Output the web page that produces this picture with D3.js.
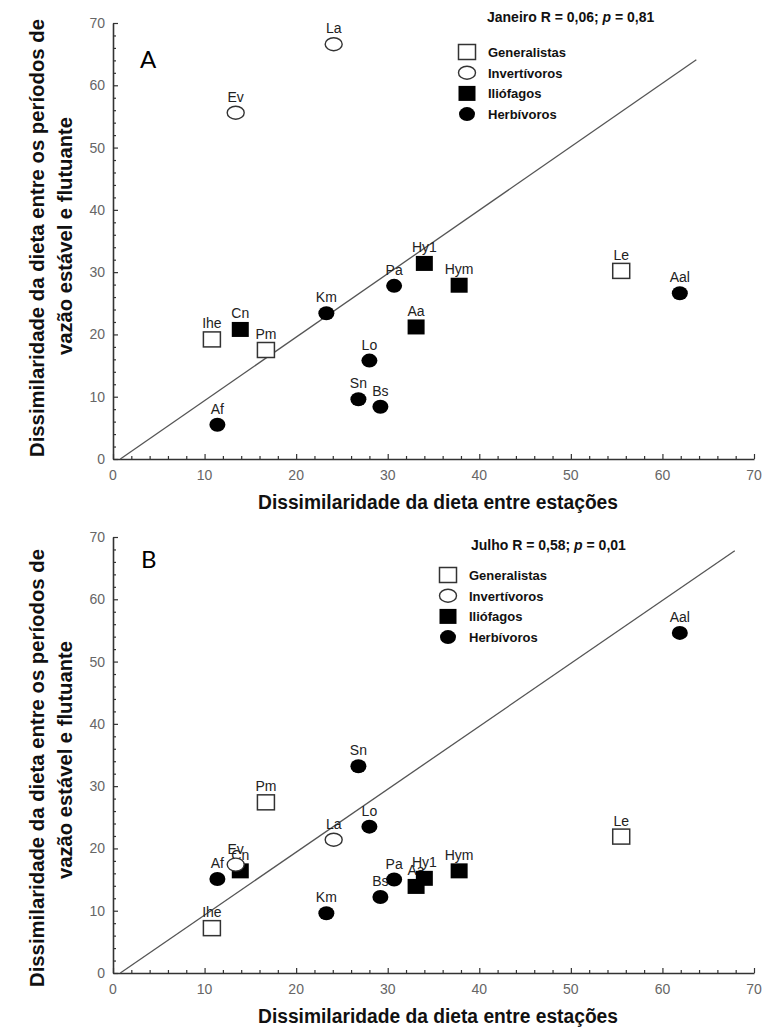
<!DOCTYPE html>
<html>
<head>
<meta charset="utf-8">
<script src="https://cdn.jsdelivr.net/npm/d3@7"></script>
<style>
  html, body { margin: 0; padding: 0; background: #fff; }
  svg { display: block; }
  .tick-num { font-family: "Liberation Sans", Arial, sans-serif; font-size: 14px; fill: #666; }
  .axis-title { font-family: "Liberation Sans Narrow", "Liberation Sans", Arial, sans-serif; font-weight: bold; font-size: 20px; fill: #111; }
  .pt-label { font-family: "Liberation Sans", Arial, sans-serif; font-size: 14px; fill: #222; }
  .leg-text { font-family: "Liberation Sans", Arial, sans-serif; font-weight: bold; font-size: 13px; fill: #111; }
  .panel-letter { font-family: Lato, "Open Sans", sans-serif; font-size: 24px; fill: #000; }
</style>
</head>
<body>
<svg id="chart" width="773" height="1029"></svg>
<script>
// Species codes and feeding guild of each
const species = ["Ihe", "Pm", "Le", "Km", "Pa", "Lo", "Sn", "Bs", "Af", "Aal", "Aa", "Cn", "Hy1", "Hym", "La", "Ev"];
const guild   = ["Generalistas", "Generalistas", "Generalistas",
                 "Herbívoros", "Herbívoros", "Herbívoros", "Herbívoros", "Herbívoros", "Herbívoros", "Herbívoros",
                 "Iliófagos", "Iliófagos", "Iliófagos", "Iliófagos",
                 "Invertívoros", "Invertívoros"];

// Diet dissimilarity between seasons (x, shared by both months)
const betweenSeasons = [10.8, 16.7, 55.5, 23.3, 30.7, 28.0, 26.8, 29.2, 11.4, 61.9, 33.1, 13.9, 34.0, 37.8, 24.1, 13.4];
// Diet dissimilarity between stable and fluctuating flow periods (y)
const janeiro = [19.2, 17.5, 30.2, 23.4, 27.8, 15.8, 9.6, 8.4, 5.5, 26.6, 21.2, 20.8, 31.4, 27.9, 66.6, 55.6];
const julho   = [7.2, 27.4, 21.9, 9.6, 15.0, 23.5, 33.2, 12.2, 15.1, 54.6, 13.9, 16.4, 15.2, 16.4, 21.4, 17.4];

// Reference lines (end points in data units)
const lineJaneiro = [[0.8, 0], [63.7, 64.1]];
const lineJulho   = [[0.8, 0], [67.9, 67.8]];

const guilds = ["Generalistas", "Invertívoros", "Iliófagos", "Herbívoros"];
const majorTicks = d3.range(0, 71, 10);
const minorTicks = d3.range(0, 71, 2).filter(v => v % 10 !== 0);

const xTitle = "Dissimilaridade da dieta entre estações";
const yTitle1 = "Dissimilaridade da dieta entre os períodos de";
const yTitle2 = "vazão estável e flutuante";

const svg = d3.select("#chart");

const x = d3.scaleLinear().domain([0, 70]).range([113, 754]);

function marker(sel, g) {
  if (g === "Generalistas") {
    sel.append("rect").attr("x", -8.5).attr("y", -7.5).attr("width", 17).attr("height", 15)
      .attr("fill", "#fff").attr("stroke", "#333").attr("stroke-width", 1.5);
  } else if (g === "Iliófagos") {
    sel.append("rect").attr("x", -8.5).attr("y", -7.5).attr("width", 17).attr("height", 15)
      .attr("fill", "#000");
  } else if (g === "Invertívoros") {
    sel.append("ellipse").attr("rx", 8.5).attr("ry", 6.5)
      .attr("fill", "#fff").attr("stroke", "#333").attr("stroke-width", 1.4);
  } else {
    sel.append("ellipse").attr("rx", 8).attr("ry", 7).attr("fill", "#000");
  }
}

function panel(opts) {
  const y = d3.scaleLinear().domain([0, 70]).range([opts.bottom, opts.top]);
  const g = svg.append("g");

  // axes: major ticks with labels, minor ticks without
  const xAxis = g.append("g").attr("transform", `translate(0,${opts.bottom})`)
    .call(d3.axisBottom(x).tickValues(majorTicks).tickSizeInner(-5).tickSizeOuter(0).tickFormat(() => ""));
  g.append("g").attr("transform", `translate(0,${opts.bottom})`)
    .call(d3.axisBottom(x).tickValues(minorTicks).tickSizeInner(-3).tickSizeOuter(0).tickFormat(() => ""))
    .select(".domain").remove();
  const yAxis = g.append("g").attr("transform", `translate(113,0)`)
    .call(d3.axisLeft(y).tickValues(majorTicks).tickSizeInner(-5).tickSizeOuter(0).tickFormat(() => ""));
  g.append("g").attr("transform", `translate(113,0)`)
    .call(d3.axisLeft(y).tickValues(minorTicks).tickSizeInner(-3).tickSizeOuter(0).tickFormat(() => ""))
    .select(".domain").remove();
  g.selectAll(".domain").attr("stroke", "#333").attr("stroke-width", 1.6);
  g.selectAll(".tick line").attr("stroke", "#333").attr("stroke-width", 1.2);

  // tick numbers
  g.selectAll(".xnum").data(majorTicks).enter().append("text")
    .attr("class", "tick-num").attr("x", d => x(d)).attr("y", opts.bottom + 21)
    .attr("text-anchor", "middle").text(d => d);
  g.selectAll(".ynum").data(majorTicks).enter().append("text")
    .attr("class", "tick-num").attr("x", 105).attr("y", d => y(d) + 5)
    .attr("text-anchor", "end").text(d => d);

  // axis titles
  g.append("text").attr("class", "axis-title")
    .attr("x", 438).attr("y", opts.bottom + 50).attr("text-anchor", "middle")
    .attr("textLength", 360).attr("lengthAdjust", "spacingAndGlyphs").text(xTitle);
  g.append("text").attr("class", "axis-title")
    .attr("transform", `translate(44,${opts.yc1}) rotate(-90)`).attr("text-anchor", "middle")
    .attr("textLength", 438).attr("lengthAdjust", "spacingAndGlyphs").text(yTitle1);
  g.append("text").attr("class", "axis-title")
    .attr("transform", `translate(72,${opts.yc2}) rotate(-90)`).attr("text-anchor", "middle")
    .attr("textLength", 238).attr("lengthAdjust", "spacingAndGlyphs").text(yTitle2);

  // panel letter
  g.append("text").attr("class", "panel-letter").attr("x", opts.letterX).attr("y", opts.letterY).text(opts.letter);

  // reference line
  g.append("line")
    .attr("x1", x(opts.line[0][0])).attr("y1", y(opts.line[0][1]))
    .attr("x2", x(opts.line[1][0])).attr("y2", y(opts.line[1][1]))
    .attr("stroke", "#555").attr("stroke-width", 1.3);

  // point labels drawn first so the markers sit on top
  const pts = species.map((s, i) => ({ s, g: guild[i], x: betweenSeasons[i], y: opts.values[i] }));
  g.selectAll(".pt-label").data(pts).enter().append("text")
    .attr("class", "pt-label").attr("x", d => x(d.x)).attr("y", d => y(d.y) - 11)
    .attr("text-anchor", "middle").text(d => d.s);

  const order = ["Generalistas", "Herbívoros", "Iliófagos", "Invertívoros"];
  order.forEach(gname => {
    pts.filter(p => p.g === gname).forEach(p => {
      const m = g.append("g").attr("transform", `translate(${x(p.x)},${y(p.y)})`);
      marker(m, gname);
    });
  });

  // legend
  const t = g.append("text").attr("class", "leg-text").style("font-size", "14px")
    .attr("x", opts.titleX).attr("y", opts.titleY);
  t.append("tspan").text(opts.month + " R = " + opts.r + "; ");
  t.append("tspan").style("font-style", "italic").text("p");
  t.append("tspan").text(" = " + opts.p);

  guilds.forEach((gname, i) => {
    const yy = opts.legY + i * opts.legStep;
    const m = g.append("g").attr("transform", `translate(${opts.legX},${yy})`);
    marker(m, gname);
    g.append("text").attr("class", "leg-text").attr("x", opts.legX + 21).attr("y", yy + 5).text(gname);
  });
}

panel({
  top: 23, bottom: 459, values: janeiro, line: lineJaneiro,
  letter: "A", letterX: 140, letterY: 68, yc1: 238, yc2: 236,
  month: "Janeiro", r: "0,06", p: "0,81", titleX: 487, titleY: 22,
  legX: 467, legY: 52, legStep: 20.7
});
panel({
  top: 537, bottom: 973, values: julho, line: lineJulho,
  letter: "B", letterX: 141, letterY: 568, yc1: 768, yc2: 760,
  month: "Julho", r: "0,58", p: "0,01", titleX: 471, titleY: 550,
  legX: 448, legY: 575, legStep: 20.7
});
</script>
</body>
</html>
